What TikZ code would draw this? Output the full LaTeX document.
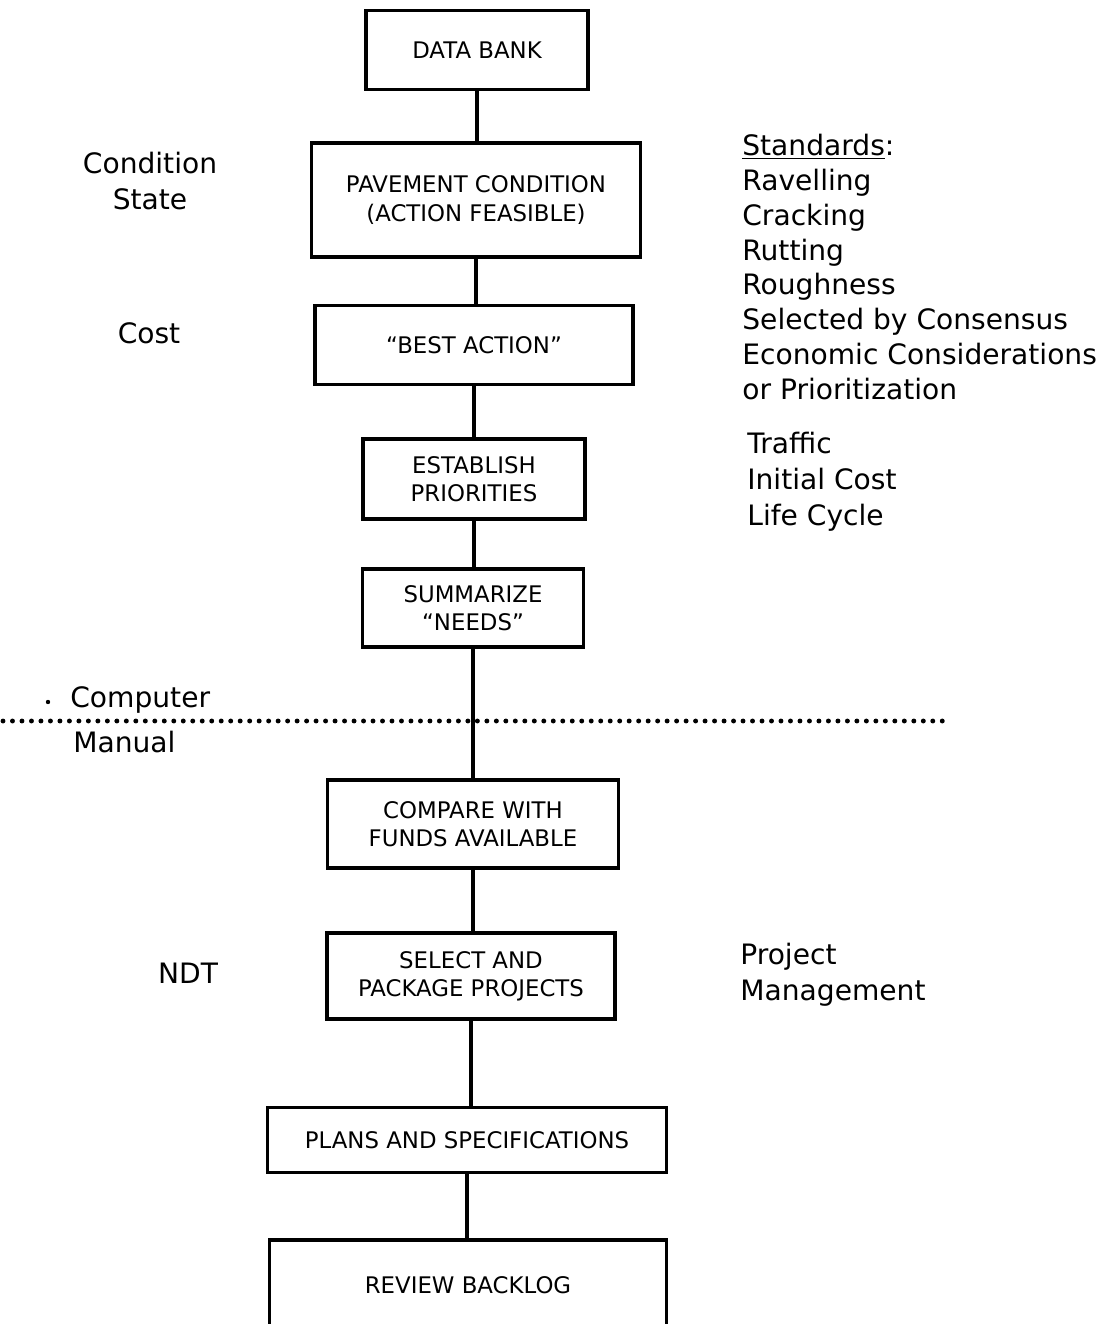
\documentclass[tikz,border=0pt]{standalone}
\usepackage{fontspec}
\setmainfont{DejaVu Sans}
\usetikzlibrary{positioning}
\tikzset{stepbox/.style = {draw,line width=2pt,align=center,inner sep=2pt,font=\fontsize{13}{16}\selectfont},
	boxsize/.style 2 args = {minimum width=#1cm,minimum height=#2cm},
	sidetext/.style = {inner sep=0pt,align=left,font=\fontsize{16}{20.5}\selectfont},
	mylink/.style = {line width=2pt},
	mydots/.style = {line width=2.8pt,line cap=round,dash pattern=on 0pt off 5.4pt}}

\begin{document}
\begin{tikzpicture}[x=0.02cm,y=-0.02cm]
\useasboundingbox (0,0) rectangle (1114,1324);
\clip (0,0) rectangle (1114,1324);
% flow boxes
\node[stepbox,boxsize={4.44}{1.58}] (bank) at (477,50) {DATA BANK};
\node[stepbox,boxsize={6.58}{2.28}] (pave) at (476,200) {PAVEMENT CONDITION\\(ACTION FEASIBLE)};
\node[stepbox,boxsize={6.36}{1.58}] (best) at (474,345) {``BEST ACTION''};
\node[stepbox,boxsize={4.44}{1.60}] (prio) at (474,479) {ESTABLISH\\PRIORITIES};
\node[stepbox,boxsize={4.42}{1.56}] (needs) at (473,608) {SUMMARIZE\\``NEEDS''};
\node[stepbox,boxsize={5.82}{1.76}] (funds) at (473,824) {COMPARE WITH\\FUNDS AVAILABLE};
\node[stepbox,boxsize={5.76}{1.72}] (select) at (471,976) {SELECT AND\\PACKAGE PROJECTS};
\node[stepbox,boxsize={7.98}{1.30}] (plans) at (467,1140) {PLANS AND SPECIFICATIONS};
\node[stepbox,boxsize={7.94}{1.80}] (review) at (468,1285) {REVIEW BACKLOG};
\foreach \a/\b in {bank/pave,pave/best,best/prio,prio/needs,needs/funds,funds/select,select/plans,plans/review}
	\draw[mylink] (\a.south) -- (\a.south |- \b.north);
% computer / manual split
\coordinate (dl) at (3,721);
\coordinate (dr) at (950,721);
\draw[mydots] (dl) -- (dr);
\fill (48,702) circle (2.2);
\node[sidetext,anchor=west] (comp) at (70,700) {Computer};
\node[sidetext,anchor=west] (man) at (73,742) {Manual};
% side notes
\node[sidetext,align=center] (cond) at (150,181) {Condition\\State};
\node[sidetext] (cost) at (149,333) {Cost};
\node[sidetext] (ndt) at (188,973) {NDT};
\node[sidetext,anchor=west,font=\fontsize{16}{19.8}\selectfont] (stds) at (742,267) {\underline{Standards}:\\Ravelling\\Cracking\\Rutting\\Roughness\\Selected by Consensus\\Economic Considerations\\or Prioritization};
\node[sidetext,anchor=west] (traf) at (747,482) {Traffic\\Initial Cost\\Life Cycle};
\node[sidetext,anchor=west] (proj) at (740,975) {Project\\Management};
\end{tikzpicture}
\end{document}
